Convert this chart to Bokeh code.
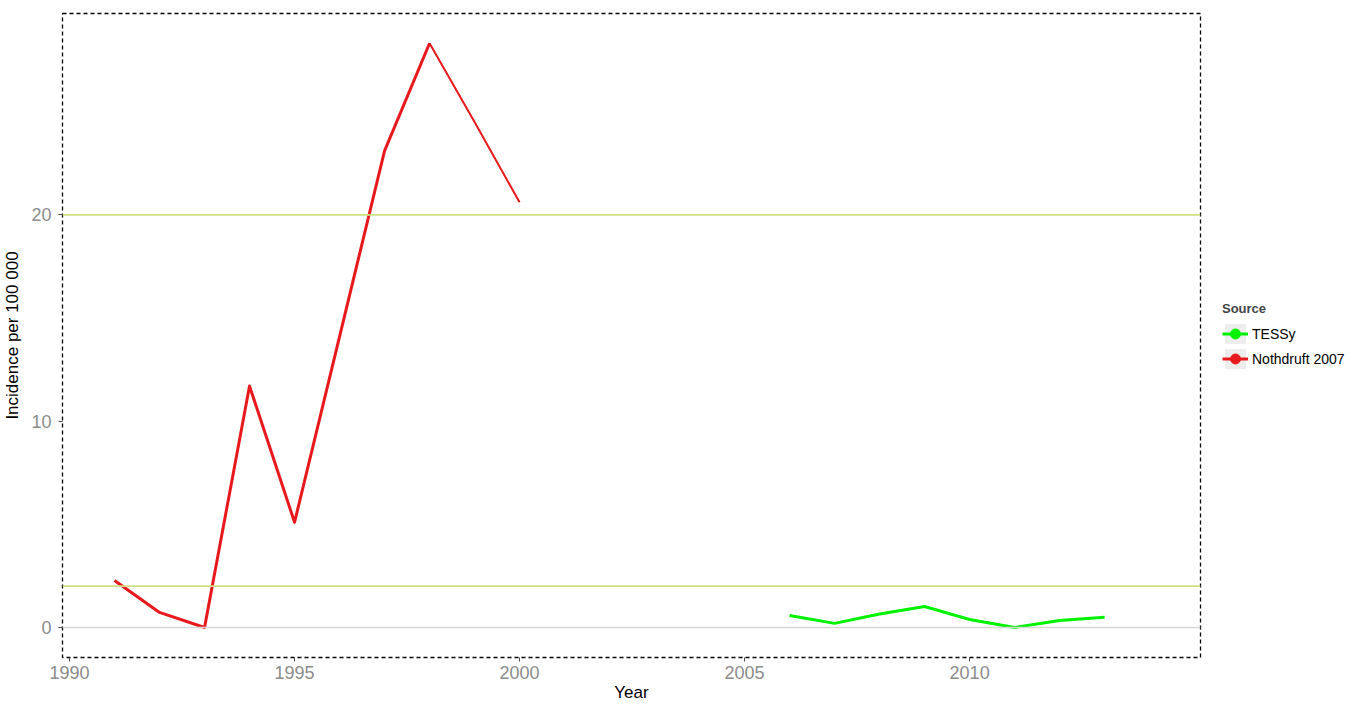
from bokeh.plotting import figure
from bokeh.models import (ColumnDataSource, Span, Legend, LegendItem, FixedTicker, Range1d)
from bokeh.embed import file_html
from bokeh.resources import INLINE

# ---- data ----
noth_years = [1991, 1992, 1993, 1994, 1995, 1996, 1997, 1998, 1999, 2000]
noth_vals = [2.28, 0.73, 0.0, 11.7, 5.1, 14.1, 23.1, 28.32, 24.5, 20.61]
tessy_years = [2006, 2007, 2008, 2009, 2010, 2011, 2012, 2013]
tessy_vals = [0.58, 0.2, 0.65, 1.02, 0.39, 0.0, 0.34, 0.5]
ref_lines_y = [2, 20]
zero_line_y = 0
x_ticks = [1990, 1995, 2000, 2005, 2010]
y_ticks = [0, 10, 20]

FONT = "Liberation Sans"

p = figure(frame_width=1138, frame_height=644, output_backend="svg", toolbar_location=None,
           x_range=Range1d(1989.844, 2015.13), y_range=Range1d(-1.455, 29.76),
           min_border_left=55, min_border_right=152, min_border_top=5, min_border_bottom=43)
p.margin = (8, 0, 0, 0)

p.background_fill_color = "white"
p.border_fill_color = "white"
p.outline_line_color = "black"
p.outline_line_dash = "4 3"
p.outline_line_width = 1.3
p.xgrid.visible = False
p.ygrid.visible = False

# reference lines
p.add_layout(Span(location=zero_line_y, dimension="width", line_color="#D6D6D6", line_width=1.5))
for yv in ref_lines_y:
    p.add_layout(Span(location=yv, dimension="width", line_color="#CEDF85", line_width=1.8))

# Nothdruft line: thicker up to 1998, thinner afterwards
i98 = noth_years.index(1998)
src_n1 = ColumnDataSource(dict(x=noth_years[:i98 + 1], y=noth_vals[:i98 + 1]))
src_n2 = ColumnDataSource(dict(x=noth_years[i98:], y=noth_vals[i98:]))
red = "#E8191C"
green = "#00F200"
rn1 = p.line("x", "y", source=src_n1, line_color=red, line_width=3, line_join="round")
rn2 = p.line("x", "y", source=src_n2, line_color=red, line_width=2, line_join="round")

src_t = ColumnDataSource(dict(x=tessy_years, y=tessy_vals))
rt = p.line("x", "y", source=src_t, line_color=green, line_width=3, line_join="round")

# legend key helpers: one point placed far outside the visible range (clipped away),
# they only show up inside the legend
off = dict(left=[3000], right=[3001], bottom=[100], top=[101])
bg1 = p.quad(left="left", right="right", bottom="bottom", top="top",
             source=ColumnDataSource(off), fill_color="#EDEDED", line_color=None)
bg2 = p.quad(left="left", right="right", bottom="bottom", top="top",
             source=ColumnDataSource(dict(off)), fill_color="#EDEDED", line_color=None)
dot_t = p.scatter("x", "y", source=ColumnDataSource(dict(x=[3000], y=[100])), marker="circle",
                  fill_color=green, line_color=green)
dot_n = p.scatter("x", "y", source=ColumnDataSource(dict(x=[3000], y=[100])), marker="circle",
                  fill_color=red, line_color=red)

legend = Legend(items=[
    LegendItem(label="TESSy", renderers=[bg1, rt, dot_t]),
    LegendItem(label="Nothdruft 2007", renderers=[bg2, rn1, dot_n]),
], location=(22, 286))
legend.title = "Source"
legend.title_text_font = FONT
legend.title_text_font_style = "bold"
legend.title_text_font_size = "13px"
legend.title_standoff = 5
legend.label_text_font = FONT
legend.label_text_font_size = "14px"
legend.label_text_color = "black"
legend.glyph_width = 26
legend.glyph_height = 25
legend.label_height = 25
legend.label_standoff = 4
legend.spacing = 0
legend.padding = 4
legend.margin = 0
legend.border_line_color = None
legend.background_fill_alpha = 0
p.add_layout(legend, "right")

# axes
for ax in (p.xaxis[0], p.yaxis[0]):
    ax.axis_line_color = None
    ax.major_tick_line_color = "#4D4D4D"
    ax.major_tick_in = 0
    ax.major_tick_out = 4
    ax.minor_tick_line_color = None
    ax.major_label_text_font = FONT
    ax.major_label_text_font_size = "18px"
    ax.major_label_text_color = "#8C8C8C"
    ax.axis_label_text_font = FONT
    ax.axis_label_text_font_size = "17px"
    ax.axis_label_text_font_style = "normal"
    ax.axis_label_text_color = "black"

p.xaxis.ticker = FixedTicker(ticks=x_ticks)
p.yaxis.ticker = FixedTicker(ticks=y_ticks)
p.xaxis.axis_label = "Year"
p.yaxis.axis_label = "Incidence per 100 000"
p.xaxis.major_label_standoff = 4
p.xaxis.axis_label_standoff = 1
p.yaxis.major_label_standoff = 7
p.yaxis.axis_label_standoff = 6

open("out.html", "w").write(file_html(p, INLINE))
